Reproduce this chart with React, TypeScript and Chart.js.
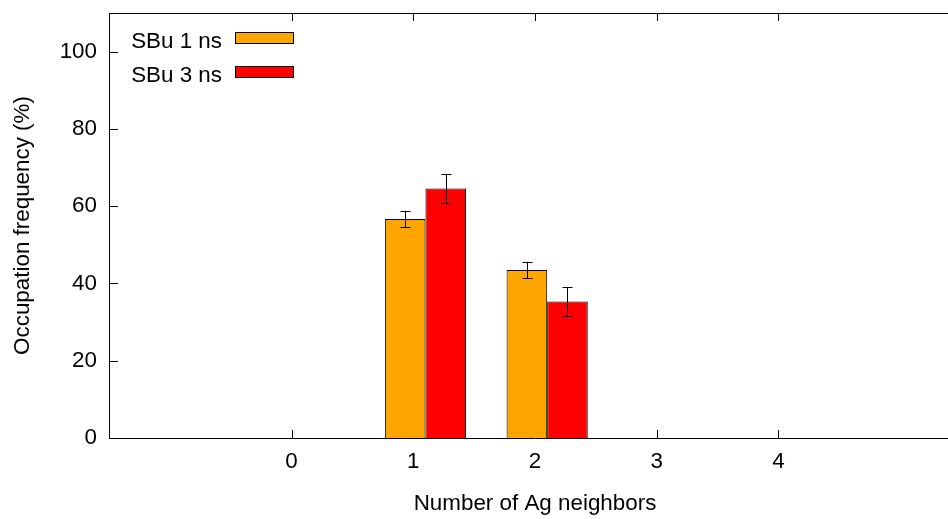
import React, { useEffect, useRef } from "react";
import { Chart, registerables } from "chart.js";

Chart.register(...registerables);

// ---- data ----
const neighbors = [0, 1, 2, 3, 4];
const tickLabels = ["0", "1", "2", "3", "4"];
const seriesLabels = ["SBu 1 ns", "SBu 3 ns"];
const sbu1Values = [0, 56.7, 43.5, 0, 0];
const sbu1Errors = [0, 2.1, 2.1, 0, 0];
const sbu3Values = [0, 64.6, 35.3, 0, 0];
const sbu3Errors = [0, 3.7, 3.75, 0, 0];
const yTicks = [0, 20, 40, 60, 80, 100];

const seriesValues = [sbu1Values, sbu3Values];
const seriesErrors = [sbu1Errors, sbu3Errors];
const seriesColors = ["#FFA500", "#FF0000"];

const FONT = "'Liberation Sans', Arial, Helvetica, sans-serif";
const FS = 22.4;
const GROUP_SHIFT = 0.1;

const decorPlugin = {
  id: "gnuplotDecor",
  beforeDatasetsDraw(chart: any) {
    const { ctx, chartArea: a, scales } = chart;
    const xs = scales.x;
    const ys = scales.y;
    ctx.save();
    ctx.strokeStyle = "#000";
    ctx.lineWidth = 1;
    ctx.beginPath();
    ctx.moveTo(a.left, Math.round(a.top) + 0.5);
    ctx.lineTo(a.right, Math.round(a.top) + 0.5);
    yTicks.forEach((v) => {
      const py = Math.round(ys.getPixelForValue(v)) + 0.5;
      ctx.moveTo(a.left, py);
      ctx.lineTo(a.left + 9, py);
    });
    neighbors.forEach((v) => {
      const px = Math.round(xs.getPixelForValue(v)) + 0.5;
      ctx.moveTo(px, a.bottom);
      ctx.lineTo(px, a.bottom - 8);
      ctx.moveTo(px, a.top);
      ctx.lineTo(px, a.top + 8);
    });
    ctx.stroke();
    ctx.restore();
  },
  afterDatasetsDraw(chart: any) {
    const { ctx, chartArea: a, scales } = chart;
    const ys = scales.y;
    ctx.save();
    ctx.strokeStyle = "#000";
    ctx.lineWidth = 1;
    // error bars
    chart.data.datasets.forEach((ds: any, di: number) => {
      const meta = chart.getDatasetMeta(di);
      meta.data.forEach((el: any, i: number) => {
        const err = seriesErrors[di][i];
        const val = seriesValues[di][i];
        if (!err) return;
        const px = Math.round(el.x) + 0.5;
        const yt = ys.getPixelForValue(val + err);
        const yb = ys.getPixelForValue(val - err);
        ctx.beginPath();
        ctx.moveTo(px, yt);
        ctx.lineTo(px, yb);
        ctx.moveTo(px - 5, Math.round(yt) + 0.5);
        ctx.lineTo(px + 5, Math.round(yt) + 0.5);
        ctx.moveTo(px - 5, Math.round(yb) + 0.5);
        ctx.lineTo(px + 5, Math.round(yb) + 0.5);
        ctx.stroke();
      });
    });
    // legend (gnuplot style: text then sample)
    ctx.font = `${FS}px ${FONT}`;
    ctx.textAlign = "right";
    ctx.textBaseline = "alphabetic";
    seriesLabels.forEach((lab, i) => {
      const base = a.top + 34.5 + i * 34;
      ctx.fillStyle = "#000";
      ctx.fillText(lab, a.left + 113, base);
      const bx = a.left + 126.5;
      const by = Math.round(base - 15.5) + 0.5;
      ctx.fillStyle = seriesColors[i];
      ctx.fillRect(bx, by, 58, 11);
      ctx.strokeRect(bx, by, 58, 11);
    });
    ctx.restore();
  },
};

export default function App() {
  const ref = useRef<HTMLCanvasElement>(null);
  useEffect(() => {
    if (!ref.current) return;
    Chart.defaults.font.family = FONT;
    Chart.defaults.color = "#000";
    const chart = new Chart(ref.current, {
      type: "bar",
      data: {
        datasets: seriesLabels.map((lab, di) => ({
          label: lab,
          data: neighbors.map((n, i) => ({ x: n + GROUP_SHIFT, y: seriesValues[di][i] })),
          backgroundColor: seriesColors[di],
          borderColor: "#000",
          borderWidth: 1,
          borderSkipped: "start",
          categoryPercentage: 0.667,
          barPercentage: 1,
        })),
      },
      options: {
        animation: false,
        responsive: false,
        devicePixelRatio: 1,
        layout: { padding: { top: 13, right: 14, bottom: 0, left: 0 } },
        plugins: { legend: { display: false }, tooltip: { enabled: false } },
        scales: {
          x: {
            type: "linear",
            min: -1.5,
            max: 5.5,
            offset: false,
            grid: { display: false, drawTicks: false },
            border: { display: true, color: "#000", width: 1 },
            afterBuildTicks: (s: any) => {
              s.ticks = neighbors.map((v) => ({ value: v }));
            },
            afterFit: (s: any) => {
              s.height = 81;
              s.paddingLeft = 0;
              s.paddingRight = 0;
            },
            ticks: {
              padding: 10,
              autoSkip: false,
              maxRotation: 0,
              font: { size: FS, family: FONT },
              color: "#000",
              callback: (v: any) => {
                const idx = neighbors.indexOf(Number(v));
                return idx >= 0 ? tickLabels[idx] : "";
              },
            },
            title: {
              display: true,
              text: "Number of Ag neighbors",
              font: { size: FS, family: FONT },
              color: "#000",
              padding: { top: 0, bottom: 2 },
            },
          },
          y: {
            min: 0,
            max: 110,
            grid: { display: false, drawTicks: false },
            border: { display: true, color: "#000", width: 1 },
            afterBuildTicks: (s: any) => {
              s.ticks = yTicks.map((v) => ({ value: v }));
            },
            afterFit: (s: any) => {
              s.width = 109;
              s.paddingTop = 0;
              s.paddingBottom = 0;
            },
            ticks: {
              padding: 12,
              font: { size: FS, family: FONT },
              color: "#000",
            },
            title: {
              display: true,
              text: "Occupation frequency (%)",
              font: { size: FS, family: FONT },
              color: "#000",
              padding: { top: 9, bottom: 0 },
            },
          },
        },
      },
      plugins: [decorPlugin],
    } as any);
    return () => chart.destroy();
  }, []);
  return (
    <div
      style={{
        position: "absolute",
        left: 0,
        top: 0,
        width: 948,
        height: 519,
        overflow: "hidden",
        background: "#fff",
      }}
    >
      <canvas ref={ref} width={975} height={519} style={{ display: "block" }} />
    </div>
  );
}
